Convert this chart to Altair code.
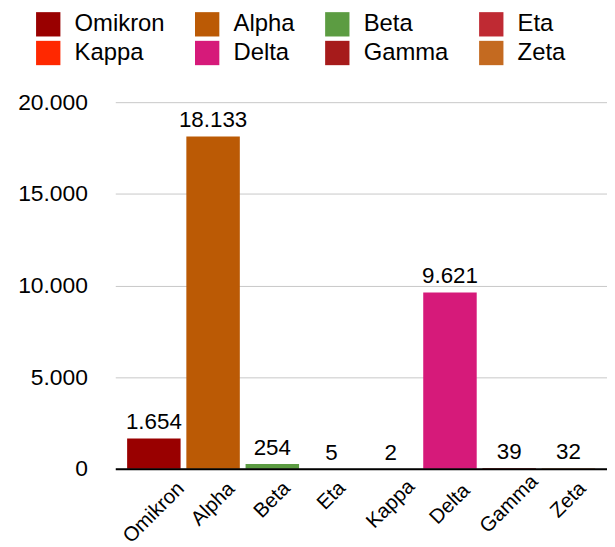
import altair as alt
import pandas as pd

categories = ["Omikron", "Alpha", "Beta", "Eta", "Kappa", "Delta", "Gamma", "Zeta"]
cases = [1654, 18133, 254, 5, 2, 9621, 39, 32]
colors = ["#990000", "#BB5A05", "#5C9C42", "#BF2A33", "#FF2800", "#D61A7A", "#A61B1B", "#C46A20"]
legend_order = ["Omikron", "Kappa", "Alpha", "Delta", "Beta", "Gamma", "Eta", "Zeta"]
y_ticks = [0, 5000, 10000, 15000, 20000]

df = pd.DataFrame({"variant": categories, "cases": cases})

FONT = "Liberation Sans"
DOT_FMT = "replace(format({v}, ','), ',', '.')"

x_enc = alt.X(
    "variant:N",
    sort=categories,
    scale=alt.Scale(paddingInner=0.097, paddingOuter=0.2),
    axis=alt.Axis(
        title=None,
        labelAngle=315,
        labelAlign="center",
        labelBaseline="middle",
        labelFontSize=20.5,
        labelFont=FONT,
        labelColor="black",
        labelPadding={"expr": "14 + 4.25*length(datum.value)"},
        ticks=False,
        tickSize=0,
        domainColor="black",
        domainWidth=2,
        grid=False,
        zindex=1,
    ),
)

y_enc = alt.Y(
    "cases:Q",
    scale=alt.Scale(domain=[0, 20000], nice=False),
    axis=alt.Axis(
        title=None,
        values=y_ticks,
        labelExpr=DOT_FMT.format(v="datum.value"),
        domain=False,
        ticks=False,
        tickSize=0,
        labelPadding=28,
        labelFontSize=23,
        labelFont=FONT,
        labelColor="black",
        gridColor="#c8c8c8",
        gridWidth=1,
    ),
)

bars = alt.Chart(df).mark_bar().encode(
    x=x_enc,
    y=y_enc,
    color=alt.Color(
        "variant:N",
        sort=categories,
        scale=alt.Scale(domain=categories, range=colors),
        legend=alt.Legend(
            title=None,
            orient="none",
            legendX=-80,
            legendY=-91,
            columns=4,
            values=legend_order,
            symbolType="square",
            symbolSize=600,
            symbolStrokeWidth=0,
            labelFontSize=24,
            labelFont=FONT,
            labelColor="black",
            labelOffset=14,
            columnPadding=30,
            rowPadding=4,
            padding=0,
            gridAlign="each",
        ),
    ),
)

labels = alt.Chart(df).transform_calculate(
    lbl=DOT_FMT.format(v="datum.cases")
).mark_text(
    baseline="alphabetic", dy=-9, fontSize=22.5, font=FONT, color="black"
).encode(
    x=alt.X("variant:N", sort=categories),
    y=alt.Y("cases:Q"),
    text="lbl:N",
)

chart = alt.layer(bars, labels).properties(
    width=495,
    height=369,
    padding={"left": 108, "top": 93, "right": 0, "bottom": 77},
    autosize=alt.AutoSizeParams(type="none"),
).configure(font=FONT).configure_view(stroke=None)

chart.save("out.html", embed_options={"renderer": "svg", "actions": False})
